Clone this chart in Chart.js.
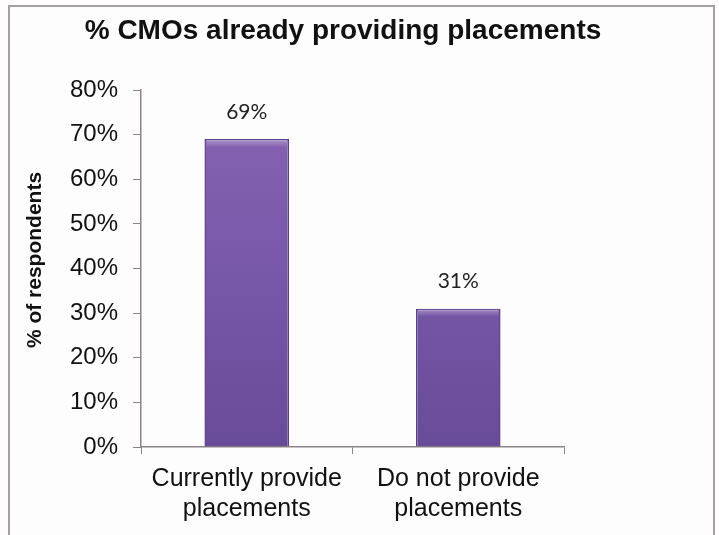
<!DOCTYPE html>
<html>
<head>
<meta charset="utf-8">
<script src="https://cdn.jsdelivr.net/npm/chart.js@4.4.1/dist/chart.umd.min.js"></script>
<style>
  html, body { margin: 0; padding: 0; background: #fdfdfd; }
  #wrap { position: relative; width: 719px; height: 535px; overflow: hidden; }
  #frame { position: absolute; left: 8px; top: 5px; width: 703px; height: 540px;
           border: 2px solid #a79f9f; border-bottom: none; }
  canvas { position: absolute; left: 0; top: 0; }
</style>
</head>
<body>
<div id="wrap">
  <div id="frame"></div>
  <canvas id="c" width="719" height="535"></canvas>
</div>
<script>
// Survey result: share of CMOs that already provide placements
const chartTitle = '% CMOs already providing placements';
const axisTitle = '% of respondents';
const categories = [
  ['Currently provide', 'placements'],
  ['Do not provide', 'placements']
];
const shares = [69, 31];
const yTicks = [0, 10, 20, 30, 40, 50, 60, 70, 80];

const AXIS = '#8d8585';
const SANS = '"Liberation Sans", Arial, sans-serif';

function barFill(ctx) {
  const area = ctx.chart.chartArea;
  if (!area) return '#7655a6';
  const g = ctx.chart.ctx.createLinearGradient(0, area.top, 0, area.bottom);
  g.addColorStop(0, '#8865b4');
  g.addColorStop(0.5, '#7858a9');
  g.addColorStop(1, '#684b99');
  return g;
}

const textPlugin = {
  id: 'titles',
  afterDraw(chart) {
    const c = chart.ctx;
    c.save();
    c.fillStyle = '#111';
    c.textAlign = 'center';
    c.textBaseline = 'middle';
    c.font = 'bold 28px ' + SANS;
    c.fillText(chartTitle, 343, 31);
    // vertical axis title
    c.translate(35, 260);
    c.rotate(-Math.PI / 2);
    c.font = 'bold 21px ' + SANS;
    c.fillText(axisTitle, 0, 0);
    c.restore();
  }
};

const valueLabels = {
  id: 'valueLabels',
  afterDatasetsDraw(chart) {
    const c = chart.ctx;
    const meta = chart.getDatasetMeta(0);
    c.save();
    meta.data.forEach((bar, i) => {
      // soft bevel highlight along the top edge of each bar
      const w = bar.width;
      const hl = c.createLinearGradient(0, bar.y, 0, bar.y + 8);
      hl.addColorStop(0, 'rgba(255,255,255,0.35)');
      hl.addColorStop(1, 'rgba(255,255,255,0)');
      c.fillStyle = hl;
      c.fillRect(bar.x - w / 2 + 2, bar.y + 1, w - 4, 8);

      c.font = '21px Lato, "Open Sans", sans-serif';
      c.fillStyle = '#222';
      c.textAlign = 'center';
      c.textBaseline = 'middle';
      c.fillText(shares[i] + '%', bar.x, bar.y - 27);
    });
    c.restore();
  }
};

const categoryLabels = {
  id: 'categoryLabels',
  afterDraw(chart) {
    const c = chart.ctx;
    const xs = chart.scales.x;
    c.save();
    c.font = '25px ' + SANS;
    c.fillStyle = '#111';
    c.textAlign = 'center';
    c.textBaseline = 'middle';
    categories.forEach((lines, i) => {
      const x = xs.getPixelForValue(i);
      lines.forEach((t, j) => c.fillText(t, x, 479 + j * 30));
    });
    c.restore();
  }
};

new Chart(document.getElementById('c'), {
  type: 'bar',
  data: {
    labels: categories.map(l => l.join(' ')),
    datasets: [{
      data: shares,
      backgroundColor: barFill,
      borderColor: '#5b4189',
      borderWidth: 1.5,
      categoryPercentage: 1,
      barPercentage: 0.4
    }]
  },
  options: {
    responsive: false,
    animation: false,
    devicePixelRatio: 1,
    layout: { padding: { left: 0, top: 90, right: 155, bottom: 0 } },
    plugins: { legend: { display: false }, title: { display: false }, tooltip: { enabled: false } },
    scales: {
      x: {
        grid: { display: true, drawOnChartArea: false, color: AXIS, tickLength: 7, offset: true },
        border: { display: true, color: AXIS, width: 1.5 },
        ticks: { display: false },
        afterFit(s) { s.height = 88; }
      },
      y: {
        min: 0, max: 80,
        afterBuildTicks(s) { s.ticks = yTicks.map(v => ({ value: v })); },
        grid: { display: true, drawOnChartArea: false, color: AXIS, tickLength: 8 },
        border: { display: true, color: AXIS, width: 1.5 },
        ticks: {
          padding: 15,
          color: '#111',
          font: { family: SANS, size: 24 },
          callback: v => v + '%'
        },
        afterFit(s) { s.width = 141; }
      }
    }
  },
  plugins: [textPlugin, valueLabels, categoryLabels]
});
</script>
</body>
</html>
